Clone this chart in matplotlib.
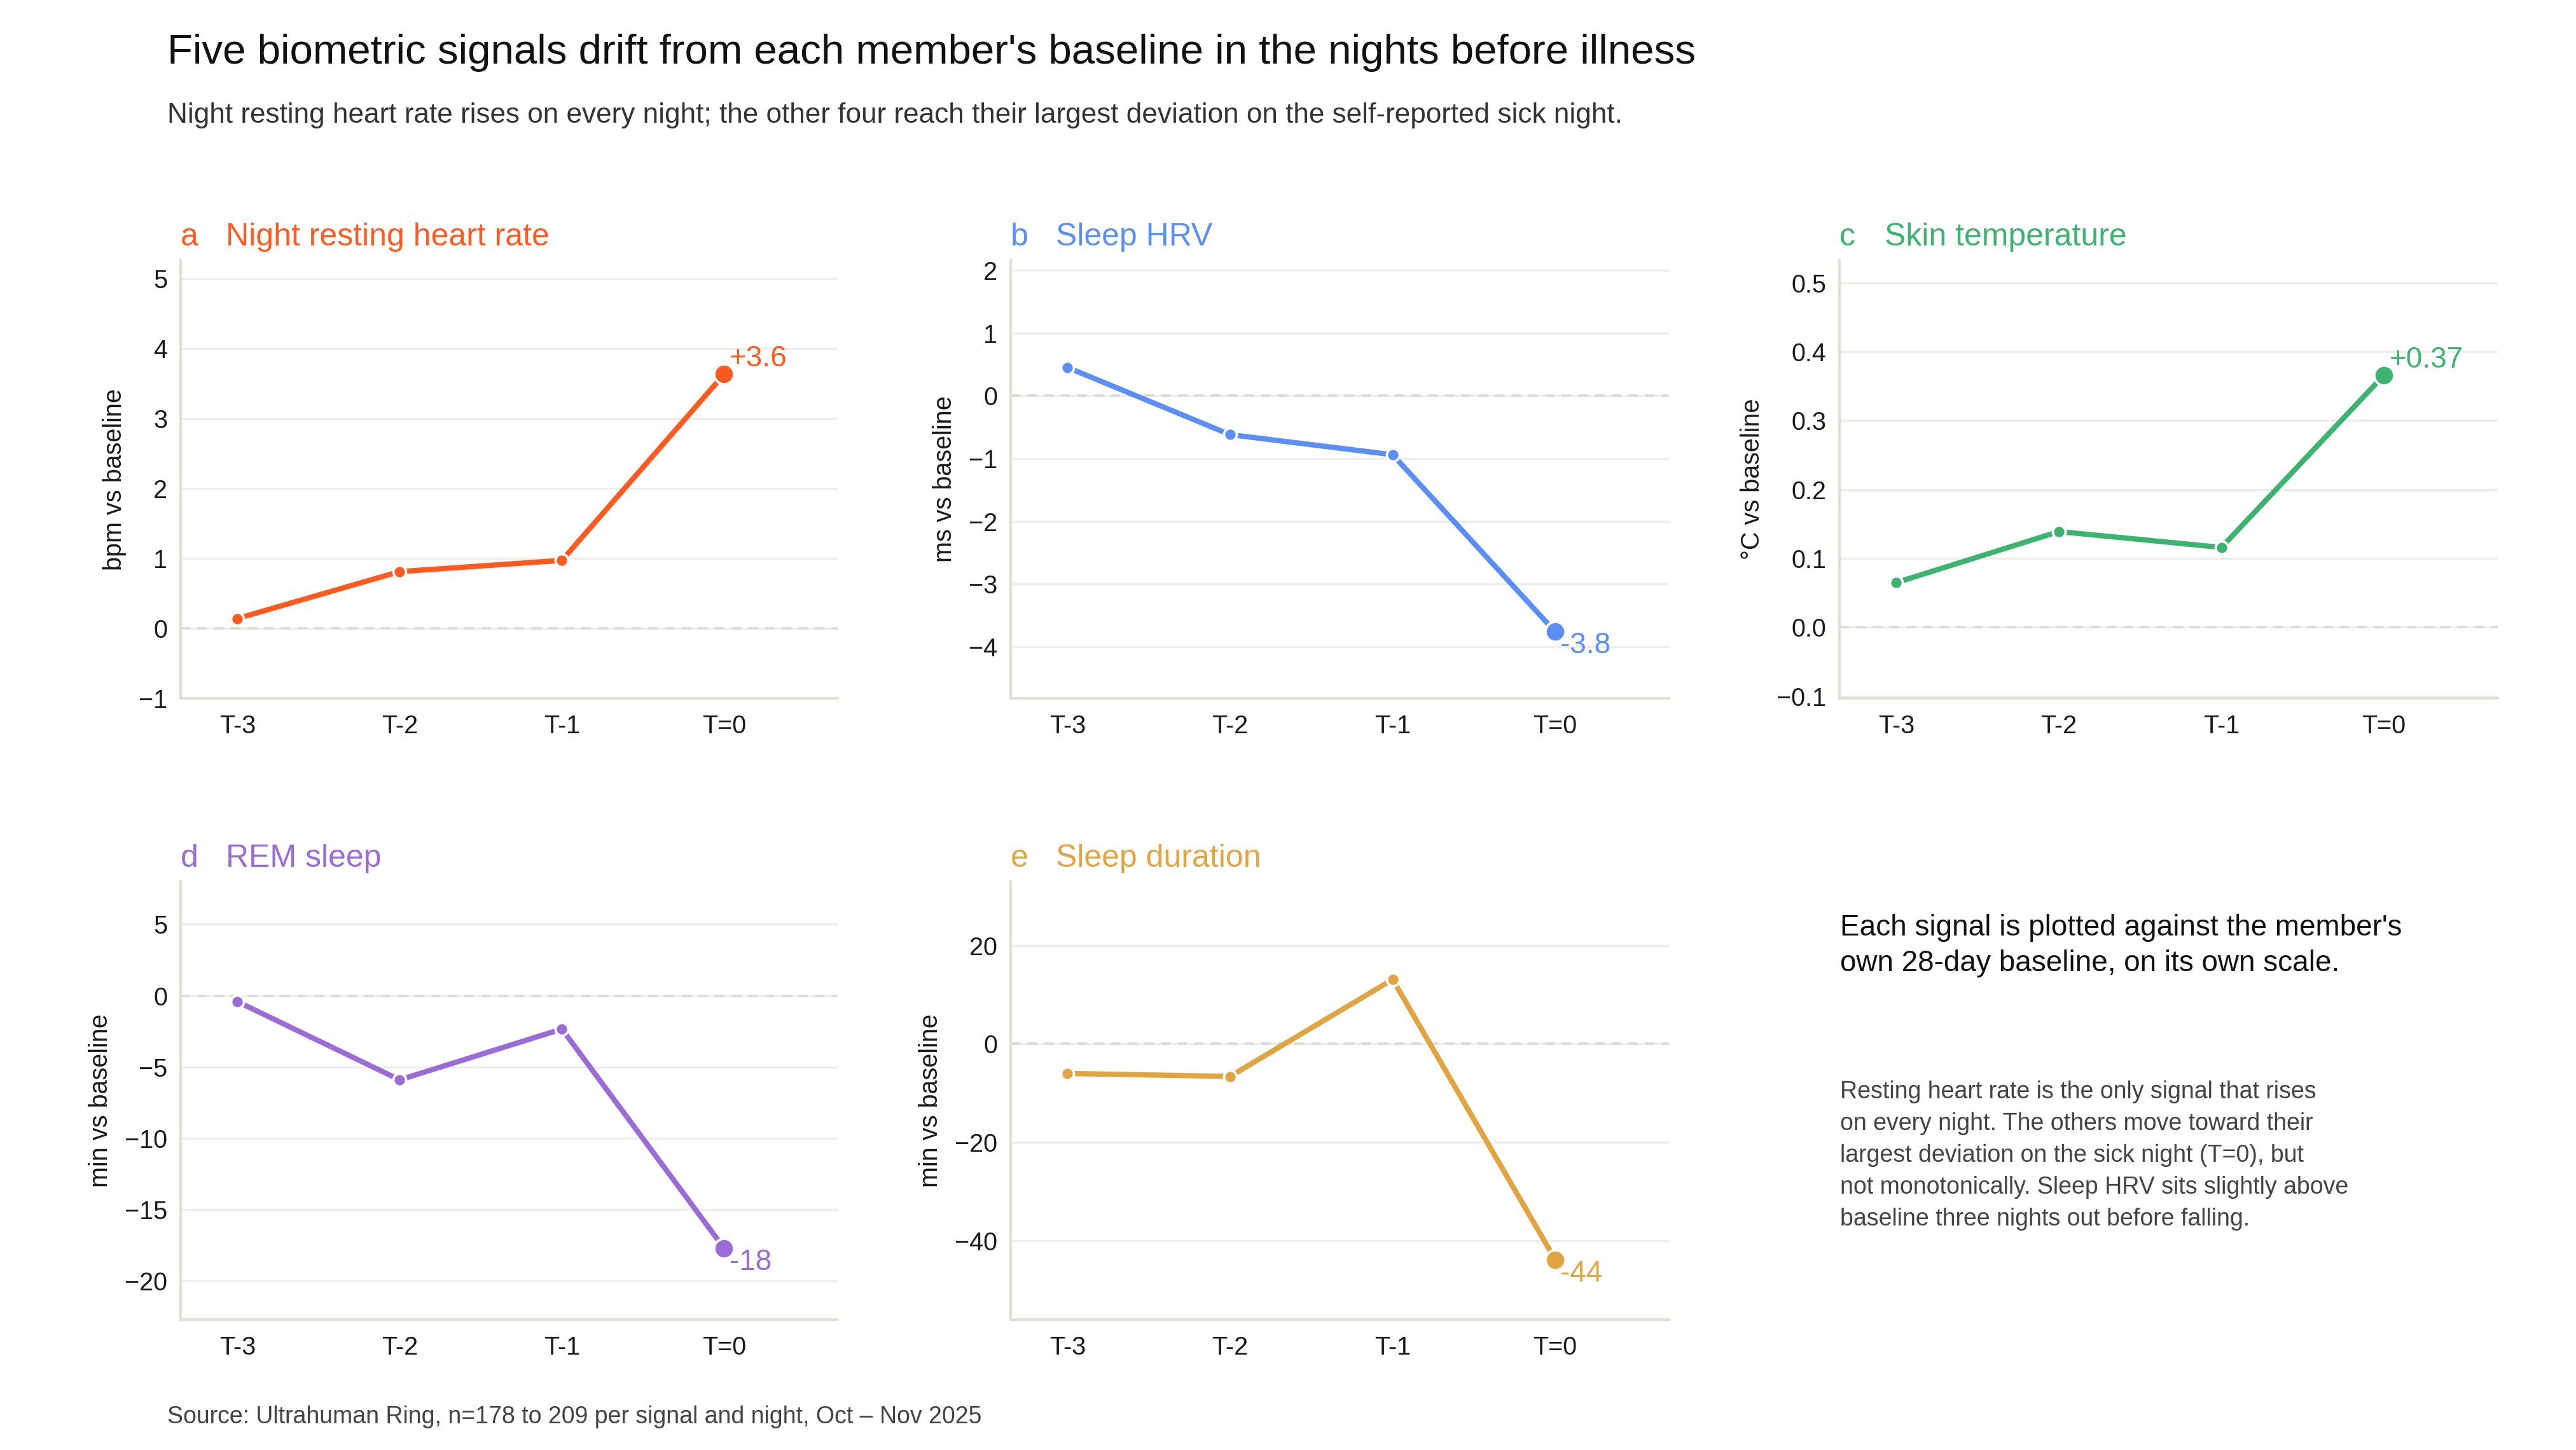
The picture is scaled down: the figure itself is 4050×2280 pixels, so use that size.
import matplotlib
matplotlib.use("Agg")
import matplotlib.pyplot as plt

plt.rcParams['font.family'] = ['Liberation Sans', 'DejaVu Sans']

# nights relative to the self-reported sick night
nights = ["T-3", "T-2", "T-1", "T=0"]

# deviation from each member's 28-day baseline
rhr = [0.14, 0.81, 0.97, 3.63]          # bpm
hrv = [0.45, -0.62, -0.94, -3.76]       # ms
skin_temp = [0.065, 0.139, 0.116, 0.366]  # deg C
rem = [-0.42, -5.9, -2.34, -17.7]       # min
duration = [-6.0, -6.6, 13.1, -43.8]    # min

letters = ["a", "b", "c", "d", "e"]
titles = ["Night resting heart rate", "Sleep HRV", "Skin temperature", "REM sleep", "Sleep duration"]
units = ["bpm vs baseline", "ms vs baseline", "°C vs baseline", "min vs baseline", "min vs baseline"]
series = [rhr, hrv, skin_temp, rem, duration]
decimals = [1, 1, 2, 0, 0]
ylims = [(-1, 5.26), (-4.82, 2.16), (-0.103, 0.533), (-22.7, 8.0), (-56, 33)]
ytick_sets = [
    [-1, 0, 1, 2, 3, 4, 5],
    [-4, -3, -2, -1, 0, 1, 2],
    [-0.1, 0.0, 0.1, 0.2, 0.3, 0.4, 0.5],
    [-20, -15, -10, -5, 0, 5],
    [-40, -20, 0, 20],
]
colors = ["#FF5A1F", "#5B8FF5", "#3CB470", "#9B6BD6", "#E0A540"]

W, H = 4050, 2280
fig = plt.figure(figsize=(W / 300, H / 300), dpi=300)

# axes boxes in pixels: (left, right), (top, bottom)
cols = [(284, 1317), (1589, 2624), (2892, 3927)]
rows = [(409, 1098), (1386, 2075)]
boxes = [(c, r) for r in rows for c in cols][:5]

spine_c = "#E2DED5"
grid_c = "#EFEDE8"

for i, ((x0, x1), (y0, y1)) in enumerate(boxes):
    ax = fig.add_axes([x0 / W, 1 - y1 / H, (x1 - x0) / W, (y1 - y0) / H])
    vals = series[i]
    col = colors[i]
    xs = range(len(nights))

    ax.set_xlim(-0.35, 3.7)
    ax.set_ylim(*ylims[i])
    ax.set_yticks(ytick_sets[i])
    if i == 2:
        ax.set_yticklabels([f"{t:.1f}".replace("-", "\u2212") for t in ytick_sets[i]])
    ax.set_xticks(list(xs))
    ax.set_xticklabels(nights)

    ax.yaxis.grid(True, color=grid_c, lw=0.8)
    ax.set_axisbelow(True)
    ax.axhline(0, color="#DEDAD3", lw=0.9, ls=(0, (4, 3)), zorder=1)

    ax.plot(xs, vals, color=col, lw=2.0, zorder=3, solid_capstyle="round")
    ax.plot(list(xs)[:-1], vals[:-1], "o", color=col, ms=4.8, mec="white", mew=0.9, zorder=4)
    ax.plot([3], [vals[-1]], "o", color=col, ms=7.5, mec="white", mew=0.9, zorder=4)

    last = vals[-1]
    label = f"{last:+.{decimals[i]}f}" if last > 0 else f"{last:.{decimals[i]}f}"
    if last > 0:
        ax.annotate(label, (3, last), xytext=(2, 0.5), textcoords="offset points",
                    ha="left", va="bottom", color=col, fontsize=11)
    else:
        ax.annotate(label, (3, last), xytext=(2, 0), textcoords="offset points",
                    ha="left", va="top", color=col, fontsize=11)

    for side in ["top", "right"]:
        ax.spines[side].set_visible(False)
    for side in ["left", "bottom"]:
        ax.spines[side].set_color(spine_c)
        ax.spines[side].set_linewidth(1.0)
    ax.tick_params(length=0, labelsize=9.5, labelcolor="#1a1a1a")
    ax.tick_params(axis="x", pad=6)
    ax.tick_params(axis="y", pad=5)
    ax.set_ylabel(units[i], fontsize=9.5, color="#1a1a1a", labelpad=4.5)

    ax.annotate(letters[i], (0, 1), xycoords="axes fraction", xytext=(0, 5.5),
                textcoords="offset points", ha="left", va="baseline",
                color=col, fontsize=12)
    ax.annotate(titles[i], (0, 1), xycoords="axes fraction", xytext=(17, 5.5),
                textcoords="offset points", ha="left", va="baseline",
                color=col, fontsize=12)

fig.text(263 / W, 1 - 100 / H, "Five biometric signals drift from each member's baseline in the nights before illness",
         fontsize=15.7, color="#111111", ha="left", va="baseline")
fig.text(263 / W, 1 - 193 / H, "Night resting heart rate rises on every night; the other four reach their largest deviation on the self-reported sick night.",
         fontsize=10.6, color="#333333", ha="left", va="baseline")

fig.text(2893 / W, 1 - 1437 / H, "Each signal is plotted against the member's\nown 28-day baseline, on its own scale.",
         fontsize=11, color="#111111", ha="left", va="top", linespacing=1.36)
fig.text(2893 / W, 1 - 1699 / H,
         "Resting heart rate is the only signal that rises\non every night. The others move toward their\n"
         "largest deviation on the sick night (T=0), but\nnot monotonically. Sleep HRV sits slightly above\n"
         "baseline three nights out before falling.",
         fontsize=9, color="#444444", ha="left", va="top", linespacing=1.5)

fig.text(263 / W, 1 - 2238 / H, "Source: Ultrahuman Ring, n=178 to 209 per signal and night, Oct \u2013 Nov 2025",
         fontsize=9, color="#444444", ha="left", va="baseline")

fig.savefig("out.png", dpi=300, facecolor="white")
